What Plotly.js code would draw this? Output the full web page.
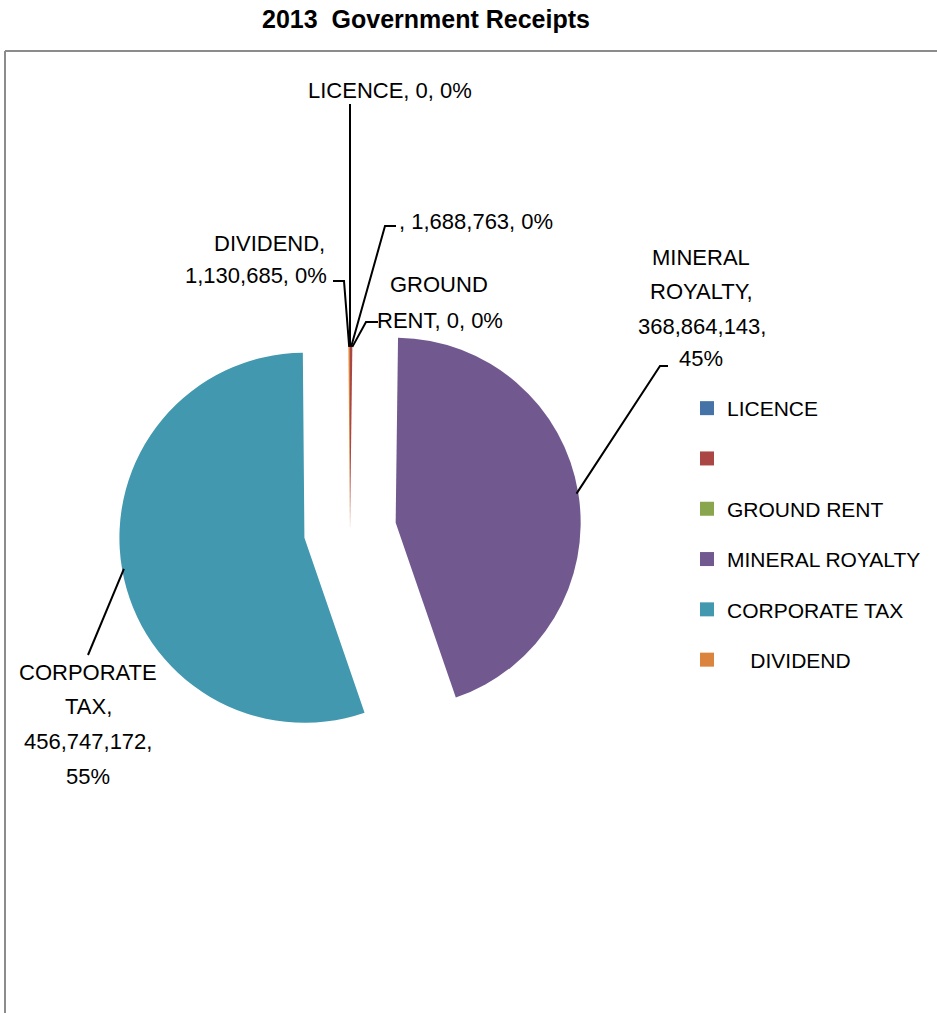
<!DOCTYPE html>
<html><head><meta charset="utf-8">
<script src="https://cdn.plot.ly/plotly-3.0.1.min.js"></script>
<style>html,body{margin:0;padding:0;background:#fff}#chart{width:937px;height:1013px}</style>
</head><body><div id="chart"></div>
<script>
// ---- data ----
const categories = ['LICENCE', '', 'GROUND RENT', 'MINERAL ROYALTY', 'CORPORATE TAX', 'DIVIDEND'];
const values = [0, 1688763, 0, 368864143, 456747172, 1130685];
const legendLabels = ['LICENCE', '\u00a0', 'GROUND RENT', 'MINERAL ROYALTY', 'CORPORATE TAX', '\u00a0\u00a0\u00a0\u00a0DIVIDEND'];
const titleText = '2013\u00a0\u00a0Government Receipts';

// ---- style / layout ----
const colors = ['#4572A7', '#AA4643', '#89A54E', '#71588F', '#4198AF', '#DB843D'];
const pulls = [0, 0, 0, 0.25, 0.25, 0];
const W = 937, H = 1013;
const FONT = '"Liberation Sans", Arial, sans-serif';
const CX = 350, CY = 530, R = 185, MAXPULL = 0.25;
const half = R * (1 + MAXPULL);
const px = x => x / W, py = y => 1 - y / H;

const total = values.reduce((a, b) => a + b, 0);
const pct = values.map(v => Math.round(v / total * 100) + '%');
const fmt = v => v.toLocaleString('en-US');

// label placement (pixels): words per line, line centres, leader path points from label towards slice
const labelPos = [
  {anchor: 'center', lines: [3], xs: [390], ys: [91], path: [[350, 104]]},
  {anchor: 'left', lines: [3], xs: [397], ys: [221], path: [[396, 226], [385, 226]]},
  {anchor: 'center', lines: [1, 3], xs: [439, 440], ys: [284, 320], path: [[378, 322], [366, 322]]},
  {anchor: 'center', lines: [1, 1, 1, 1], xs: [701, 701, 702, 701], ys: [257, 291, 326, 358], path: [[668, 366], [660, 366]]},
  {anchor: 'center', lines: [1, 1, 1, 1], xs: [88, 88, 88, 88], ys: [672, 706, 741, 776], path: [[88, 655]]},
  {anchor: 'center', lines: [1, 2], xs: [269, 256], ys: [244, 275], path: [[333, 281], [344, 281]]}
];

function labelLines(i) {
  const words = (categories[i] + ', ' + fmt(values[i]) + ', ' + pct[i]).split(' ');
  const out = []; let k = 0;
  labelPos[i].lines.forEach(n => { out.push(words.slice(k, k + n).join(' ')); k += n; });
  return out;
}

// slice edge point at its mid angle (clockwise from 12 o'clock)
function edgePoint(i) {
  let before = 0;
  for (let j = 0; j < i; j++) before += values[j];
  const th = (before + values[i] / 2) / total * 2 * Math.PI;
  const s = Math.sin(th), c = Math.cos(th);
  const cx = CX + pulls[i] * R * s, cy = CY - pulls[i] * R * c;
  return [cx + R * s * 0.99, cy - R * c * 0.99];
}

const annotations = [];
categories.forEach((c, i) => {
  labelLines(i).forEach((line, k) => {
    annotations.push({
      xref: 'paper', yref: 'paper', x: px(labelPos[i].xs[k]), y: py(labelPos[i].ys[k]),
      xanchor: labelPos[i].anchor, yanchor: 'middle', align: 'center',
      text: line, showarrow: false,
      font: {family: FONT, size: 22, color: '#000'}
    });
  });
});

const shapes = [
  {type: 'line', xref: 'paper', yref: 'paper', x0: px(5), y0: py(1013), x1: px(5), y1: py(51), line: {color: '#8c8c8c', width: 2}},
  {type: 'line', xref: 'paper', yref: 'paper', x0: px(5), y0: py(51), x1: px(937), y1: py(51), line: {color: '#8c8c8c', width: 2}}
];
categories.forEach((c, i) => {
  const pts = labelPos[i].path.concat([edgePoint(i)]);
  const d = pts.map((p, k) => (k ? 'L' : 'M') + px(p[0]) + ',' + py(p[1])).join(' ');
  shapes.push({type: 'path', xref: 'paper', yref: 'paper', path: d, line: {color: '#000', width: 2}});
});

const pie = {
  type: 'pie',
  labels: categories.map(c => c === '' ? '\u00a0' : c),
  values: values,
  sort: false, direction: 'clockwise', rotation: 0,
  pull: pulls,
  marker: {colors: colors, line: {width: 0}},
  textinfo: 'none',
  hoverinfo: 'label+value+percent',
  showlegend: false,
  domain: {x: [px(CX - half), px(CX + half)], y: [py(CY + half), py(CY - half)]}
};

const legendTraces = categories.map((c, i) => ({
  type: 'scatter', mode: 'markers', x: [null], y: [null],
  name: legendLabels[i], legendgroup: 'g' + i, showlegend: true,
  marker: {symbol: 'square', size: 14, color: colors[i]},
  hoverinfo: 'skip'
}));

const layout = {
  width: W, height: H,
  margin: {l: 0, r: 0, t: 0, b: 0},
  paper_bgcolor: '#fff', plot_bgcolor: '#fff',
  title: {text: '<b>' + titleText + '</b>', x: px(426), xanchor: 'center', y: 1 - 19 / H, yanchor: 'middle',
          font: {family: FONT, size: 25, color: '#000'}},
  xaxis: {visible: false}, yaxis: {visible: false},
  showlegend: true,
  legend: {x: px(687), y: py(388), xanchor: 'left', yanchor: 'top', bgcolor: 'rgba(0,0,0,0)',
           font: {family: FONT, size: 21, color: '#000'}, tracegroupgap: 20, traceorder: 'grouped',
           itemclick: false, itemdoubleclick: false},
  annotations: annotations,
  shapes: shapes
};

Plotly.newPlot('chart', [pie].concat(legendTraces), layout, {displayModeBar: false, staticPlot: true});
</script>
</body></html>
